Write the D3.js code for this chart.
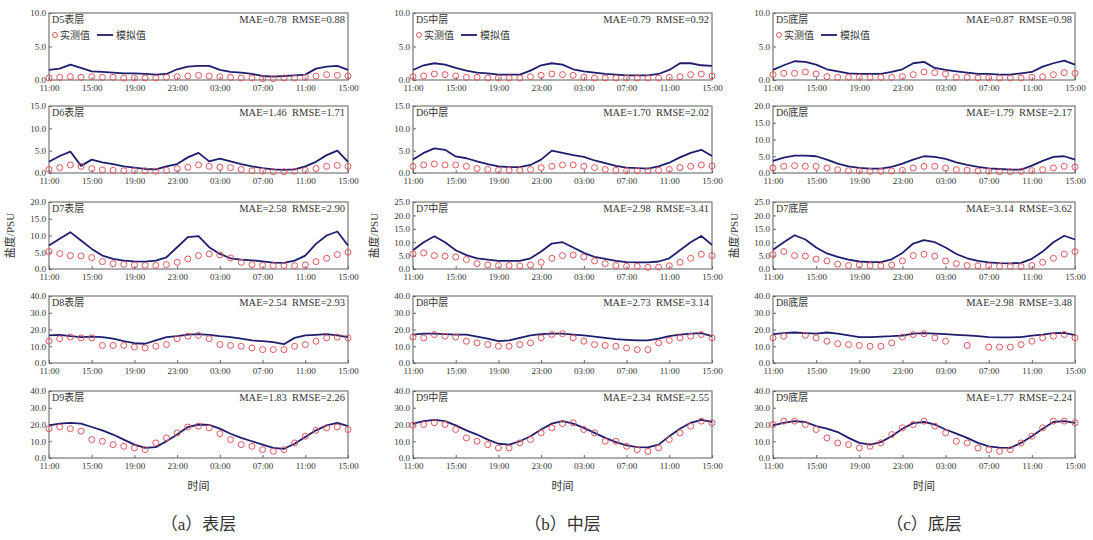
<!DOCTYPE html>
<html>
<head>
<meta charset="utf-8">
<script src="https://cdn.jsdelivr.net/npm/d3@7"></script>
<style>
  body { margin: 0; background: #fff; }
  svg { display: block; }
  text { font-family: "Liberation Serif", "Times New Roman", "Noto Sans CJK SC", serif; fill: #333; }
</style>
</head>
<body>
<div id="container"></div>
<script>
  // hourly time axis, 11:00 day 1 -> 15:00 day 2 (index = hours since 11:00)
  const tickLabels = ["11:00", "15:00", "19:00", "23:00", "03:00", "07:00", "11:00", "15:00"];
  const tickHours = [0, 4, 8, 12, 16, 20, 24, 28];

  const stations = ["D5", "D6", "D7", "D8", "D9"];
  const layers = ["表层", "中层", "底层"];
  const captions = ["（a）表层", "（b）中层", "（c）底层"];

  const yMaxSurface = [10, 15, 20, 40, 40];
  const yMaxMiddle = [10, 15, 25, 40, 40];
  const yMaxBottom = [10, 20, 25, 40, 40];

  const maeSurface = ["0.78", "1.46", "2.58", "2.54", "1.83"];
  const rmseSurface = ["0.88", "1.71", "2.90", "2.93", "2.26"];
  const maeMiddle = ["0.79", "1.70", "2.98", "2.73", "2.34"];
  const rmseMiddle = ["0.92", "2.02", "3.41", "3.14", "2.55"];
  const maeBottom = ["0.87", "1.79", "3.14", "2.98", "1.77"];
  const rmseBottom = ["0.98", "2.17", "3.62", "3.48", "2.24"];

  // 实测值 (observed)
  const obsSurface = [
    [0.3,0.4,0.5,0.4,0.5,0.4,0.4,0.3,0.3,0.3,0.3,0.4,0.5,0.6,0.7,0.6,0.5,0.4,0.3,0.3,0.2,0.2,0.3,0.3,0.4,0.6,0.8,0.7,0.6],
    [0.8,1.2,1.8,1.5,1.0,0.7,0.6,0.5,0.5,0.5,0.4,0.6,1.0,1.3,1.8,1.5,1.3,1.2,0.8,0.5,0.4,0.3,0.3,0.4,0.6,1.0,1.5,1.7,1.5],
    [5.2,4.6,4.0,3.9,3.4,2.2,1.6,1.4,1.2,1.1,1.1,1.3,2.0,3.0,4.0,4.5,4.2,3.3,2.0,1.3,1.1,1.0,1.0,1.0,1.2,2.2,3.2,4.3,5.0],
    [13.0,14.5,15.5,15.0,15.0,10.5,10.5,10.5,9.5,9.0,10.0,11.0,14.5,16.0,16.5,14.5,11.0,10.5,10.0,9.0,8.0,8.0,8.0,10.0,11.0,13.0,15.0,15.5,15.0],
    [17.5,18.5,17.5,16.0,11.0,10.0,8.0,7.0,6.0,5.0,9.0,12.0,15.0,18.5,19.0,18.0,14.5,11.0,8.0,7.0,5.0,4.0,5.0,9.0,13.0,16.5,18.0,18.5,17.0]
  ];
  const obsMiddle = [
    [0.5,0.6,0.9,0.8,0.6,0.4,0.4,0.3,0.3,0.3,0.3,0.5,0.7,0.9,0.8,0.7,0.4,0.3,0.3,0.3,0.3,0.3,0.3,0.3,0.4,0.5,0.8,0.9,0.6],
    [1.5,1.8,2.0,1.8,1.8,1.5,1.0,0.8,0.6,0.6,0.6,0.8,1.2,1.5,1.8,1.8,1.5,1.2,0.8,0.6,0.5,0.5,0.5,0.6,0.8,1.2,1.5,1.8,1.6],
    [5.7,6.0,5.0,4.8,4.5,3.5,2.0,1.5,1.3,1.3,1.2,1.5,2.5,4.0,5.0,5.2,4.5,3.0,2.0,1.3,1.0,1.0,0.6,0.7,1.2,2.5,4.0,5.5,5.0],
    [15.5,15.0,17.0,16.0,15.5,13.0,12.0,11.0,10.0,10.0,11.0,12.0,15.0,17.0,17.5,15.0,13.0,11.0,10.5,10.0,9.0,8.0,8.0,12.0,13.5,15.0,16.0,17.0,15.0],
    [19.6,20.0,21.0,20.0,17.0,12.0,10.0,8.0,6.0,6.0,9.0,11.0,15.0,18.0,20.5,21.0,17.0,15.0,10.0,10.0,7.0,5.0,4.0,6.0,11.0,15.0,19.0,22.0,21.0]
  ];
  const obsBottom = [
    [0.8,1.0,1.0,1.2,0.9,0.5,0.4,0.4,0.4,0.4,0.4,0.4,0.5,0.8,1.2,1.1,0.9,0.4,0.4,0.3,0.3,0.3,0.3,0.3,0.4,0.5,0.8,1.1,1.0],
    [1.5,2.0,2.2,2.0,2.0,1.5,1.0,0.7,0.6,0.5,0.5,0.6,0.8,1.5,2.0,2.0,1.5,1.0,0.8,0.6,0.5,0.4,0.4,0.5,0.7,1.0,1.5,2.0,1.8],
    [5.4,6.5,5.0,4.8,3.7,3.0,1.8,1.3,1.5,1.3,1.2,1.5,3.0,5.0,5.5,4.8,3.0,2.0,1.3,1.2,1.2,1.0,1.0,0.9,1.3,2.5,4.0,5.5,6.5],
    [15.0,16.0,null,16.5,15.0,13.0,11.5,11.0,10.5,10.0,10.0,12.0,15.5,17.0,17.5,15.0,13.0,null,10.5,null,9.5,9.5,9.5,11.0,13.0,15.0,16.0,17.0,15.0],
    [20,22,22,20,17,12,9,8,6,7,9,14,18,20,22,19,15,10,9,6,5,4,5,9,13,18,22,22,21]
  ];

  // 模拟值 (simulated)
  const simSurface = [
    [1.5,1.7,2.3,1.8,1.3,1.2,1.1,1.0,1.0,0.9,0.8,0.9,1.6,2.0,2.1,2.1,1.5,1.2,1.1,0.9,0.6,0.5,0.6,0.7,0.8,1.7,2.0,2.1,1.5],
    [2.5,3.8,4.8,1.6,3.0,2.4,2.0,1.5,1.2,0.9,0.8,1.5,2.0,3.5,4.5,2.6,3.2,2.6,2.0,1.5,1.1,0.8,0.7,0.8,1.5,2.5,4.0,5.0,2.5],
    [7.0,9.0,11.0,8.5,6.0,4.0,3.0,2.5,2.3,2.2,2.5,3.5,6.5,9.5,9.8,6.5,4.5,3.2,2.8,2.6,2.3,1.9,1.8,2.5,4.0,7.5,10.0,11.2,7.0],
    [16.5,16.8,16.0,15.5,15.8,15.5,14.5,13.0,11.8,11.5,13.5,15.5,16.0,17.0,17.2,16.8,16.0,15.5,14.5,13.5,13.0,12.5,11.2,15.0,16.5,16.8,17.2,16.5,15.5],
    [19.5,20.5,21.0,20.5,18.5,16.5,14.0,11.0,8.0,6.0,6.5,10.0,14.0,18.5,20.0,19.8,17.5,14.5,12.0,10.0,8.0,6.0,5.5,8.5,12.5,16.5,19.5,21.0,19.0]
  ];
  const simMiddle = [
    [1.5,2.2,2.5,2.3,1.8,1.4,1.1,1.0,0.8,0.8,0.8,1.4,2.2,2.5,2.3,1.6,1.3,1.1,0.9,0.8,0.7,0.7,0.7,0.9,1.5,2.5,2.5,2.2,2.1],
    [3.0,4.5,5.5,5.2,3.7,3.3,2.6,2.0,1.5,1.3,1.3,1.8,3.0,5.0,4.5,4.0,3.6,2.8,2.2,1.6,1.2,1.1,1.0,1.5,2.3,3.5,4.5,5.2,3.8],
    [7.0,10.0,12.2,10.0,7.0,5.2,4.0,3.5,3.0,3.0,3.0,4.0,6.5,9.5,10.0,8.0,6.0,4.5,3.8,3.0,2.6,2.5,2.5,2.8,4.0,7.0,10.0,12.3,9.0],
    [17.0,17.5,17.5,17.2,17.0,17.0,15.8,14.5,13.0,13.5,15.0,16.5,17.2,17.5,17.5,17.0,16.5,15.8,15.0,14.2,13.8,13.5,13.5,14.5,16.0,17.0,17.5,17.8,16.0],
    [20.5,22.0,22.8,22.0,19.5,16.5,14.0,11.0,8.5,8.0,10.0,13.0,17.0,20.5,22.0,20.5,18.0,15.0,12.0,9.5,7.5,6.5,6.3,8.0,13.0,17.5,21.0,22.8,21.5]
  ];
  const simBottom = [
    [1.5,2.2,2.8,2.7,2.3,1.6,1.3,1.0,0.9,0.9,0.9,1.2,1.6,2.5,2.7,1.8,1.5,1.3,1.1,0.9,0.9,0.8,0.8,1.0,1.2,2.0,2.5,2.9,2.3],
    [3.6,4.6,5.2,5.2,5.0,4.0,2.8,2.0,1.5,1.3,1.3,1.8,2.8,4.0,5.0,4.8,4.2,3.2,2.4,1.8,1.4,1.2,1.0,1.0,2.2,3.6,4.8,5.0,4.0],
    [7.2,10.0,12.6,11.0,8.0,5.8,4.5,3.5,2.8,2.6,2.6,3.6,6.0,9.5,10.8,10.0,8.0,5.6,4.0,3.0,2.5,2.2,2.1,2.3,3.8,6.5,10.0,12.4,11.0],
    [17.3,17.8,18.2,17.8,17.5,18.2,17.5,16.5,15.5,15.5,15.8,16.0,16.4,17.5,17.8,17.5,17.2,16.8,16.5,16.0,15.5,15.3,15.3,15.5,16.4,17.0,17.8,18.0,16.7],
    [19.5,21.0,22.0,21.5,19.0,17.5,15.5,12.0,9.0,8.0,9.5,13.0,17.5,20.8,21.5,20.0,17.0,14.5,12.0,9.0,7.0,6.2,6.0,9.0,13.0,17.5,21.5,22.0,21.0]
  ];

  const columns = [
    { yMax: yMaxSurface, mae: maeSurface, rmse: rmseSurface, obs: obsSurface, sim: simSurface },
    { yMax: yMaxMiddle, mae: maeMiddle, rmse: rmseMiddle, obs: obsMiddle, sim: simMiddle },
    { yMax: yMaxBottom, mae: maeBottom, rmse: rmseBottom, obs: obsBottom, sim: simBottom }
  ];

  const width = 1093;
  const height = 540;
  const colLeft = [49, 413, 773];
  const colWidth = [299, 299, 302];
  const rowTop = [13, 106, 202, 296, 391];
  const boxH = 67;

  const obsColor = "#e2555c";
  const simColor = "#1e1e6e";

  const svg = d3.create("svg")
    .attr("width", width)
    .attr("height", height);

  columns.forEach((col, c) => {
    const x = d3.scaleLinear().domain([0, 28]).range([colLeft[c], colLeft[c] + colWidth[c]]);

    stations.forEach((st, r) => {
      const top = rowTop[r];
      const yMax = col.yMax[r];
      const step = yMax > 25 ? 10 : 5;
      const y = d3.scaleLinear().domain([0, yMax]).range([top + boxH, top]);
      const g = svg.append("g");

      // frame
      g.append("rect")
        .attr("x", colLeft[c]).attr("y", top)
        .attr("width", colWidth[c]).attr("height", boxH)
        .attr("fill", "none").attr("stroke", "#777").attr("stroke-width", 1.2);

      const yAxis = g.append("g")
        .attr("transform", `translate(${colLeft[c]},0)`)
        .call(d3.axisLeft(y)
          .tickValues(d3.range(0, yMax + 0.1, step))
          .tickFormat(d3.format(".1f"))
          .tickSizeInner(-3).tickSizeOuter(0).tickPadding(3));
      yAxis.select(".domain").remove();
      yAxis.selectAll("line").attr("stroke", "#666");
      yAxis.selectAll("text").attr("font-size", 9).attr("font-family", "Liberation Serif").attr("fill", "#444");

      const xAxis = g.append("g")
        .attr("transform", `translate(0,${top + boxH})`)
        .call(d3.axisBottom(x)
          .tickValues(tickHours)
          .tickFormat((d, i) => tickLabels[i])
          .tickSizeInner(-3).tickSizeOuter(0).tickPadding(5));
      xAxis.select(".domain").remove();
      xAxis.selectAll("line").attr("stroke", "#666");
      xAxis.selectAll("text").attr("font-size", 9).attr("font-family", "Liberation Serif").attr("fill", "#444");

      // simulated line
      const sim = col.sim[r];
      g.append("path")
        .datum(sim)
        .attr("fill", "none")
        .attr("stroke", simColor)
        .attr("stroke-width", 1.8)
        .attr("stroke-linejoin", "round")
        .attr("d", d3.line().x((d, i) => x(i)).y(d => y(d)));

      // observed markers
      const obs = col.obs[r];
      g.selectAll("circle.obs")
        .data(obs.map((v, i) => ({ i, v })).filter(d => d.v !== null))
        .join("circle")
        .attr("class", "obs")
        .attr("cx", d => x(d.i))
        .attr("cy", d => y(d.v))
        .attr("r", 3)
        .attr("fill", "none")
        .attr("stroke", obsColor)
        .attr("stroke-width", 1);

      // labels
      g.append("text")
        .attr("x", colLeft[c] + 3).attr("y", top + 10)
        .attr("font-size", 10)
        .text(st + layers[c]);
      g.append("text")
        .attr("x", colLeft[c] + colWidth[c] - 3).attr("y", top + 10)
        .attr("text-anchor", "end")
        .attr("font-size", 10.5)
        .attr("xml:space", "preserve")
        .text(`MAE=${col.mae[r]}  RMSE=${col.rmse[r]}`);

      if (r === 0) {
        const lx = colLeft[c] + 6;
        const ly = top + 22;
        g.append("circle").attr("cx", lx).attr("cy", ly).attr("r", 2.5)
          .attr("fill", "none").attr("stroke", obsColor).attr("stroke-width", 1);
        g.append("text").attr("x", lx + 5).attr("y", ly + 3.5).attr("font-size", 10).text("实测值");
        g.append("line").attr("x1", lx + 42).attr("x2", lx + 58).attr("y1", ly).attr("y2", ly)
          .attr("stroke", simColor).attr("stroke-width", 1.8);
        g.append("text").attr("x", lx + 61).attr("y", ly + 3.5).attr("font-size", 10).text("模拟值");
      }
    });

    const cx = colLeft[c] + colWidth[c] / 2;
    // y title on middle panel
    svg.append("text")
      .attr("transform", `translate(${colLeft[c] - 35},${rowTop[2] + boxH / 2}) rotate(-90)`)
      .attr("text-anchor", "middle")
      .attr("font-size", 11)
      .text("盐度/PSU");
    // x title
    svg.append("text")
      .attr("x", cx).attr("y", rowTop[4] + boxH + 32)
      .attr("text-anchor", "middle")
      .attr("font-size", 11)
      .text("时间");
    // caption
    svg.append("text")
      .attr("x", cx).attr("y", 530)
      .attr("text-anchor", "middle")
      .attr("font-size", 17)
      .attr("font-family", "Noto Sans CJK SC")
      .attr("fill", "#111")
      .text(captions[c]);
  });

  container.appendChild(svg.node());
</script>
</body>
</html>
